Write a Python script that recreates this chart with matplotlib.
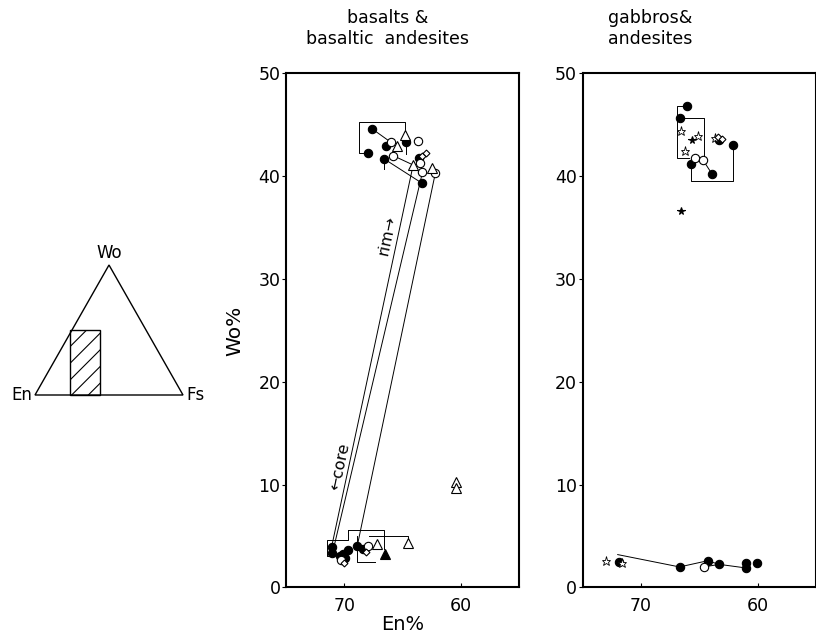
import matplotlib
matplotlib.use("Agg")
import matplotlib.pyplot as plt
import numpy as np
from matplotlib.patches import Polygon, Rectangle

plt.rcParams['font.family'] = ['DejaVu Sans']
plt.rcParams['hatch.linewidth'] = 0.8

# ---- data: basalts & basaltic andesites (En %, Wo %) ----
bas_filled_en = [67.6, 68.0, 64.7, 66.4, 66.6, 63.6, 63.3,
                 71.1, 71.1, 70.1, 69.7, 69.9, 70.4, 68.9, 68.4]
bas_filled_wo = [44.6, 42.3, 43.3, 42.9, 41.7, 41.8, 39.3,
                 3.9, 3.4, 3.3, 3.65, 2.9, 3.1, 4.0, 3.7]
bas_open_en = [63.7, 66.0, 65.8, 63.5, 63.3, 62.2, 70.3, 67.95]
bas_open_wo = [43.4, 43.3, 42.0, 41.3, 40.4, 40.3, 2.7, 4.0]
bas_tri_en = [64.8, 65.5, 64.1, 62.5, 67.2, 64.5, 60.4, 60.4]
bas_tri_wo = [44.0, 42.9, 41.1, 40.8, 4.2, 4.3, 10.3, 9.7]
bas_tri_filled_en = [66.5]
bas_tri_filled_wo = [3.3]
bas_dia_en = [63.3, 63.0, 70.0, 68.1]
bas_dia_wo = [42.0, 42.3, 2.35, 3.5]

# core -> rim tie lines
bas_tie_en = [(71.1, 64.1), (70.9, 63.3), (68.9, 62.2)]
bas_tie_wo = [(3.9, 41.1), (3.9, 40.4), (4.0, 40.3)]

# grouping brackets
bas_brackets = [
    ([68.0, 68.7, 68.7, 64.8, 64.8], [42.3, 42.3, 45.3, 45.3, 44.0]),
    ([67.6, 66.0], [44.6, 43.3]),
    ([66.6, 63.3], [41.7, 39.3]),
    ([65.8, 64.1], [42.0, 41.1]),
    ([64.7, 64.7], [43.3, 42.2]),
    ([66.6, 66.6], [41.7, 40.7]),
    ([71.1, 71.5, 71.5, 69.7, 69.7], [3.1, 3.1, 4.6, 4.6, 5.6]),
    ([69.7, 66.6, 66.6], [5.6, 5.6, 3.7]),
    ([67.4, 68.9, 68.9], [2.5, 2.5, 5.0]),
    ([67.9, 64.5, 64.5], [5.0, 5.0, 4.4]),
]

# ---- data: gabbros & andesites ----
gab_filled_en = [66.1, 66.7, 65.7, 63.9, 62.1, 63.3,
                 71.9, 66.7, 64.3, 63.3, 61.0, 61.0, 60.1]
gab_filled_wo = [46.8, 45.7, 41.2, 40.2, 43.0, 43.5,
                 2.5, 2.0, 2.6, 2.25, 2.4, 1.9, 2.4]
gab_open_en = [65.4, 64.7, 64.6]
gab_open_wo = [41.75, 41.6, 2.0]
gab_star_en = [66.6, 65.1, 66.2, 63.7, 73.0, 71.6]
gab_star_wo = [44.4, 43.9, 42.5, 43.7, 2.6, 2.35]
gab_star_filled_en = [65.6, 66.6]
gab_star_filled_wo = [43.5, 36.6]
gab_dia_en = [63.4, 63.1]
gab_dia_wo = [43.8, 43.6]

gab_brackets = [
    ([65.9, 66.9, 66.9, 66.1], [41.8, 41.8, 46.8, 46.8]),
    ([66.7, 64.6, 64.6], [45.7, 45.7, 41.6]),
    ([65.7, 65.7, 62.1, 62.1], [41.2, 39.5, 39.5, 43.0]),
    ([64.7, 63.9], [41.6, 40.2]),
    ([72.0, 66.7, 64.3, 63.3, 61.0], [3.2, 2.0, 2.6, 2.25, 1.9]),
    ([64.6, 63.3], [2.0, 2.25]),
]

x_ticks = [70, 60]
y_ticks = [0, 10, 20, 30, 40, 50]

fig = plt.figure(figsize=(8.16, 6.39), dpi=100)


def setup_axes(ax):
    ax.set_xlim(75, 55)
    ax.set_ylim(0, 50)
    ax.set_xticks(x_ticks)
    ax.set_yticks(y_ticks)
    ax.tick_params(axis='x', direction='in', length=3, labelsize=12.5, pad=7)
    ax.tick_params(axis='y', direction='out', length=3, labelsize=12.5, pad=1)
    for s in ax.spines.values():
        s.set_linewidth(1.5)


def draw_lines(ax, lines):
    for xs, ys in lines:
        ax.plot(xs, ys, color='black', lw=0.7, zorder=2)


mk = dict(linestyle='none', markeredgecolor='black', markeredgewidth=0.8, zorder=3)

# left panel
ax1 = fig.add_axes([0.3505, 0.0806, 0.2859, 0.8044])
setup_axes(ax1)
for xs, ys in zip(bas_tie_en, bas_tie_wo):
    ax1.plot(xs, ys, color='black', lw=0.7, zorder=2)
draw_lines(ax1, bas_brackets)
ax1.plot(bas_filled_en, bas_filled_wo, marker='o', ms=6, markerfacecolor='black', **mk)
ax1.plot(bas_open_en, bas_open_wo, marker='o', ms=6, markerfacecolor='white', **mk)
ax1.plot(bas_tri_en, bas_tri_wo, marker='^', ms=7, markerfacecolor='white', **mk)
ax1.plot(bas_tri_filled_en, bas_tri_filled_wo, marker='^', ms=7, markerfacecolor='black', **mk)
ax1.plot(bas_dia_en, bas_dia_wo, marker='D', ms=3.5, markerfacecolor='white', **mk)
ax1.text(66.3, 34.3, 'rim\u2192', rotation=78, fontsize=11.5, ha='center', va='center')
ax1.text(70.4, 11.8, '\u2190core', rotation=78, fontsize=11.5, ha='center', va='center')
ax1.set_xlabel('En%', fontsize=14, labelpad=0)
ax1.set_ylabel('Wo%', fontsize=14.5, labelpad=10)

# right panel
ax2 = fig.add_axes([0.7141, 0.0806, 0.2859, 0.8044])
setup_axes(ax2)
draw_lines(ax2, gab_brackets)
ax2.plot(gab_filled_en, gab_filled_wo, marker='o', ms=6, markerfacecolor='black', **mk)
ax2.plot(gab_open_en, gab_open_wo, marker='o', ms=6, markerfacecolor='white', **mk)
ax2.plot(gab_star_en, gab_star_wo, marker='*', ms=6.5, markerfacecolor='white',
         linestyle='none', markeredgecolor='black', markeredgewidth=0.6, zorder=3)
ax2.plot(gab_star_filled_en, gab_star_filled_wo, marker='*', ms=5.5, markerfacecolor='black', **mk)
ax2.plot(gab_dia_en, gab_dia_wo, marker='D', ms=3.5, markerfacecolor='white', **mk)

# titles
fig.text(388 / 816, 1 - 18 / 639, 'basalts &', ha='center', va='center', fontsize=12.5)
fig.text(388 / 816, 1 - 39 / 639, 'basaltic  andesites', ha='center', va='center', fontsize=12.5)
fig.text(650 / 816, 1 - 18 / 639, 'gabbros&', ha='center', va='center', fontsize=12.5)
fig.text(650 / 816, 1 - 39 / 639, 'andesites', ha='center', va='center', fontsize=12.5)

# ternary inset (En - Wo - Fs)
h = np.sqrt(3) / 2
ax3 = fig.add_axes([35 / 816, 1 - 395 / 639, 148 / 816, 130 / 639])
ax3.set_xlim(0, 1)
ax3.set_ylim(0, h)
ax3.axis('off')
ax3.add_patch(Polygon([[0, 0], [1, 0], [0.5, h]], closed=True, fill=False, lw=1.0, clip_on=False))
ax3.add_patch(Rectangle((0.236, 0), 0.204, h / 2, fill=False, hatch='//', lw=1.0, clip_on=False))
ax3.text(0.5, h + 0.02, 'Wo', ha='center', va='bottom', fontsize=12)
ax3.text(-0.02, 0, 'En', ha='right', va='center', fontsize=12)
ax3.text(1.02, 0, 'Fs', ha='left', va='center', fontsize=12)

fig.savefig('out.png', dpi=100)
